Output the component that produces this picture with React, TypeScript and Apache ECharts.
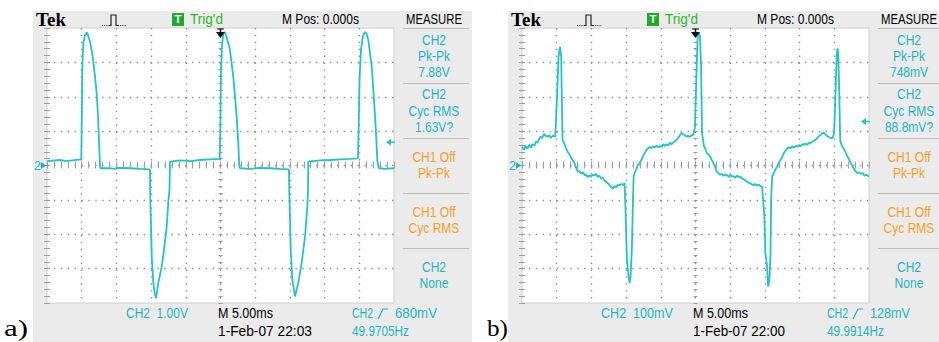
import React, { useEffect, useRef } from 'react';
import * as echarts from 'echarts';

// ---------- DATA ----------
// time in ms (5 ms/div, 10 div), panel a in volts (1 V/div), panel b in mV (100 mV/div)
const timeRangeMs = [0, 50];
const timePerDiv = 5;
const voltRangeA = [-4, 4];
const voltPerDivA = 1;
const voltRangeB = [-400, 400];
const voltPerDivB = 100;
const trigLevelA = 0.68;
const trigLevelB = 128;
const trigTimeMs = 25;

const waveA: [number, number][] = [
  [0, 0.13], [1.87, 0.16], [2.74, 0.13], [3.6, 0.15], [4.94, 0.18],
  [4.99, 0.95], [5.09, 2.9], [5.23, 3.56], [5.48, 3.8], [5.72, 3.87],
  [5.81, 3.85], [6.2, 3.6], [6.59, 3.17], [6.92, 2.58], [7.16, 2.1], [7.35, 1.42], [7.49, 0.74], [7.64, -0.03], [7.71, -0.08],
  [9.0, -0.08], [9.8, -0.1], [10.23, -0.07], [11.96, -0.08], [13.4, -0.1], [14.8, -0.11],
  [14.84, -0.13], [14.88, -0.94], [15.09, -2.65], [15.32, -3.41], [15.52, -3.73], [15.71, -3.86],
  [16.04, -3.41], [16.53, -2.94], [16.86, -2.45], [17.25, -1.78], [17.48, -1.05], [17.65, -0.71], [17.72, 0.11],
  [19.16, 0.15], [20.6, 0.13], [22.05, 0.16], [23.49, 0.18], [24.88, 0.19],
  [24.97, 1.0], [25.07, 2.78], [25.22, 3.5], [25.4, 3.83], [25.58, 3.88],
  [25.79, 3.8], [26.08, 3.59], [26.37, 3.36], [26.84, 2.58], [27.33, 1.42], [27.56, 0.65], [27.71, -0.03], [27.81, -0.08],
  [29.25, -0.1], [30.69, -0.07], [32.13, -0.08], [33.57, -0.1], [34.8, -0.11],
  [34.87, -0.13], [34.91, -0.76], [35.12, -2.45], [35.35, -3.33], [35.73, -3.81],
  [36.21, -3.41], [36.7, -2.83], [37.18, -2.07], [37.51, -1.19], [37.61, -0.71], [37.65, 0.11],
  [39.34, 0.15], [40.78, 0.16], [42.22, 0.18], [43.66, 0.19], [44.81, 0.21],
  [44.9, 1.03], [45.03, 2.49], [45.24, 3.36], [45.53, 3.77], [45.82, 3.89],
  [46.04, 3.83], [46.3, 3.65], [46.79, 2.88], [47.12, 1.91], [47.41, 0.95], [47.59, 0.16], [47.74, -0.03], [47.84, -0.08],
  [48.7, -0.1], [50, -0.08],
];

const waveB: [number, number][] = [
  [0.0, 55], [0.3, 45], [0.5, 58], [0.77, 48], [1.0, 60], [1.3, 52], [1.5, 62], [1.8, 58], [2.0, 70], [2.22, 66], [2.5, 78], [2.71, 84], [2.9, 80], [3.19, 92], [3.4, 86], [3.67, 84], [3.9, 88], [4.15, 80], [4.4, 86], [4.78, 84],
  [4.88, 123], [5.12, 239], [5.27, 317], [5.46, 346], [5.65, 317], [5.7, 239], [5.84, 74], [6.09, 65], [6.3, 52], [6.57, 40], [6.8, 34], [7.05, 24], [7.3, 16], [7.54, 7], [7.8, -6], [8.02, -18], [8.25, -16], [8.5, -24], [8.8, -20], [9.0, -28], [9.23, -27], [9.5, -34], [9.75, -28], [9.95, -33], [10.2, -26], [10.45, -30], [10.68, -24], [10.9, -33], [11.16, -30], [11.4, -38], [11.64, -36], [11.9, -44], [12.13, -47], [12.4, -52], [12.61, -57], [12.85, -62], [13.09, -67], [13.3, -60], [13.57, -63], [13.8, -56], [14.05, -58], [14.3, -54], [14.55, -57], [14.78, -51],
  [14.93, -139], [15.12, -274], [15.36, -323], [15.51, -342], [15.65, -323], [15.84, -236], [15.99, -100], [16.09, -32], [16.23, -22], [16.45, -12], [16.71, 2], [16.95, 8], [17.2, 16], [17.45, 28], [17.68, 36], [17.9, 44], [18.16, 50], [18.4, 54], [18.65, 50], [18.88, 56], [19.1, 52], [19.4, 58], [19.6, 53], [19.86, 57], [20.1, 54], [20.35, 62], [20.6, 57], [20.82, 62], [21.05, 58], [21.3, 66], [21.55, 62], [21.78, 67], [22.0, 70], [22.25, 74], [22.51, 80], [22.75, 88], [23.0, 95], [23.25, 90], [23.48, 88], [23.7, 84], [23.95, 86], [24.2, 83], [24.45, 88], [24.69, 89],
  [24.93, 113], [25.17, 288], [25.31, 375], [25.51, 385], [25.65, 375], [25.8, 288], [25.94, 94], [26.23, 55], [26.45, 48], [26.62, 36], [26.85, 32], [27.1, 26], [27.35, 16], [27.58, 7], [27.85, -6], [28.07, -18], [28.3, -22], [28.55, -27], [28.8, -24], [29.05, -30], [29.3, -26], [29.52, -28], [29.8, -33], [30.05, -27], [30.25, -32], [30.48, -31], [30.75, -35], [31.0, -29], [31.2, -34], [31.45, -32], [31.7, -38], [31.95, -40], [32.17, -43], [32.4, -47], [32.65, -50], [32.9, -52], [33.15, -55], [33.38, -57], [33.6, -54], [33.85, -58], [34.1, -55], [34.35, -60], [34.59, -61],
  [34.74, -100], [34.93, -149], [35.07, -255], [35.32, -294], [35.46, -352], [35.65, -333], [35.8, -265], [35.9, -100], [36.04, -32], [36.28, -22], [36.5, -12], [36.77, -3], [37.0, 8], [37.25, 16], [37.5, 26], [37.73, 36], [38.0, 44], [38.22, 50], [38.45, 53], [38.7, 50], [38.94, 56], [39.2, 52], [39.45, 57], [39.67, 55], [39.9, 60], [40.15, 56], [40.4, 62], [40.63, 60], [40.85, 64], [41.1, 60], [41.35, 67], [41.59, 65], [41.85, 70], [42.1, 72], [42.35, 76], [42.56, 80], [42.8, 86], [43.04, 89], [43.28, 94], [43.52, 95], [43.75, 90], [44.01, 85], [44.25, 82], [44.5, 80], [44.73, 79],
  [44.97, 94], [45.22, 239], [45.36, 326], [45.46, 341], [45.56, 326], [45.7, 229], [45.85, 74], [46.0, 62], [46.19, 55], [46.45, 46], [46.67, 36], [46.9, 26], [47.16, 16], [47.4, 6], [47.64, -3], [47.9, -12], [48.12, -18], [48.35, -22], [48.6, -20], [48.84, -24], [49.1, -22], [49.35, -30], [49.6, -27], [50.0, -32],
];

// measurement panel labels
const measureA: string[][] = [['CH2', 'Pk-Pk', '7.88V'], ['CH2', 'Cyc RMS', '1.63V?'], ['CH1 Off', 'Pk-Pk'], ['CH1 Off', 'Cyc RMS'], ['CH2', 'None']];
const measureB: string[][] = [['CH2', 'Pk-Pk', '748mV'], ['CH2', 'Cyc RMS', '88.8mV?'], ['CH1 Off', 'Pk-Pk'], ['CH1 Off', 'Cyc RMS'], ['CH2', 'None']];
const measureIsCh1 = [false, false, true, true, false];
const scaleLabelA = 'CH2  1.00V';
const scaleLabelB = 'CH2  100mV';
const trigLabelA = '680mV';
const trigLabelB = '128mV';
const freqA = '49.9705Hz';
const freqB = '49.9914Hz';
const dateA = '1-Feb-07 22:03';
const dateB = '1-Feb-07 22:00';

// ---------- STYLE ----------
const SANS = '"Liberation Sans", Arial, sans-serif';
const SERIF = '"Liberation Serif", "Times New Roman", serif';
const CYAN_LINE = '#22c4c6';
const CYAN_TEXT = '#1cb6c0';
const ORANGE = '#f4a11e';
const GREEN = '#2db52d';
const BG = '#ebebeb';
const TICK = '#9c9c9c';

let measureCtx: CanvasRenderingContext2D | null = null;
function measure(text: string, font: string): number {
  if (!measureCtx) measureCtx = document.createElement('canvas').getContext('2d');
  if (!measureCtx) return text.length * 7;
  measureCtx.font = font;
  return measureCtx.measureText(text).width;
}

type TOpts = { w?: number; align?: string; color?: string; size?: number; bold?: boolean; family?: string };
function txt(text: string, x: number, y: number, o: TOpts = {}) {
  const size = o.size ?? 14;
  const family = o.family ?? SANS;
  const weight = o.bold ? 'bold' : 'normal';
  const natural = measure(text, `${weight} ${size}px ${family}`);
  const sx = o.w ? o.w / natural : 0.86;
  const align = o.align ?? 'left';
  return {
    type: 'text',
    x, y, scaleX: sx, scaleY: 1, z: 20, silent: true,
    style: {
      text, x: 0, y: 0, fill: o.color ?? '#000',
      fontSize: size, fontFamily: family, fontWeight: weight,
      textAlign: align, align, textVerticalAlign: 'middle', verticalAlign: 'middle',
    },
  };
}

const GRID_TOP = 28;
const GRID_H = 275;
const GRID_W = 347;

function buildPanel(dx: number, gi: number, yr: number[], yStep: number, wave: [number, number][], m: string[][],
  scaleLabel: string, scaleW: number, trigLabel: string, freq: string, date: string, trigLevel: number, isA: boolean) {
  const left = 47 + dx;
  const right = left + GRID_W;
  const yOf = (v: number) => GRID_TOP + (yr[1] - v) / (yr[1] - yr[0]) * GRID_H;
  const xOf = (t: number) => left + (t - timeRangeMs[0]) / (timeRangeMs[1] - timeRangeMs[0]) * GRID_W;

  const grid = { left, top: GRID_TOP, width: GRID_W, height: GRID_H, show: true, backgroundColor: '#ffffff', borderColor: '#d0d0d0', borderWidth: 1 };

  const tickStyle = { color: TICK, width: 1 };
  const hidden = { axisLabel: { show: false }, axisLine: { show: false }, splitLine: { show: false }, axisTick: { show: false }, minorTick: { show: false }, z: 3 };
  const tickAx = (len: number) => ({
    axisTick: { show: true, inside: true, length: len, lineStyle: tickStyle },
    minorTick: { show: true, splitNumber: 5, length: len, lineStyle: tickStyle },
  });
  const xb = { type: 'value', gridIndex: gi, min: timeRangeMs[0], max: timeRangeMs[1], interval: timePerDiv, ...hidden };
  const yb = { type: 'value', gridIndex: gi, min: yr[0], max: yr[1], interval: yStep, ...hidden };
  const dots = { show: true, showMinLine: false, showMaxLine: false, lineStyle: { color: '#8c8c8c', width: 1.4, type: [1.4, 5.5] } };
  const xAxes = [
    { ...xb, splitLine: dots },
    { ...xb, position: 'top', ...tickAx(3) },
    { ...xb, position: 'bottom', ...tickAx(3) },
    { ...xb, position: 'bottom', offset: -(GRID_H / 2) + 2, ...tickAx(4) },
  ];
  const yAxes = [
    { ...yb, splitLine: dots },
    { ...yb, position: 'left', ...tickAx(3) },
    { ...yb, position: 'right', ...tickAx(3) },
    { ...yb, position: 'left', offset: -(GRID_W / 2) + 2, ...tickAx(4) },
  ];

  const series = {
    type: 'line', xAxisIndex: gi * 4, yAxisIndex: gi * 4, data: wave, showSymbol: false, symbol: 'none',
    lineStyle: { color: CYAN_LINE, width: 1.8 }, silent: true, z: 5,
  };

  const g: any[] = [];
  // panel background
  g.push({ type: 'rect', shape: { x: 33 + dx, y: 11, width: isA ? 439 : 431, height: 331 }, style: { fill: BG }, z: -10, silent: true });
  // header
  g.push(txt('Tek', 36 + dx, 20, { w: 30, size: 18, bold: true, family: SERIF }));
  // acquisition icon
  g.push({ type: 'line', shape: { x1: 102 + dx, y1: 25.5, x2: 109 + dx, y2: 25.5 }, style: { stroke: '#222', lineWidth: 1, lineDash: [1, 1.2] }, z: 20, silent: true });
  g.push({ type: 'polyline', shape: { points: [[109 + dx, 25.5], [111 + dx, 25.5], [111 + dx, 15], [116 + dx, 15], [116 + dx, 25.5], [118 + dx, 25.5]] }, style: { stroke: '#222', lineWidth: 1.2, fill: 'none' }, z: 20, silent: true });
  g.push({ type: 'line', shape: { x1: 118 + dx, y1: 25.5, x2: 127 + dx, y2: 25.5 }, style: { stroke: '#222', lineWidth: 1, lineDash: [1, 1.2] }, z: 20, silent: true });
  // trigger status
  g.push({ type: 'rect', shape: { x: 172 + dx, y: 13, width: 12, height: 13 }, style: { fill: '#1faa2a' }, z: 20, silent: true });
  g.push(txt('T', 178 + dx, 19.5, { align: 'center', color: '#fff', size: 11, bold: true, w: 7 }));
  g.push(txt("Trig'd", 190 + dx, 19, { w: 33, color: GREEN }));
  g.push(txt('M Pos: 0.000s', 282 + dx, 19, { w: 77 }));
  g.push(txt('MEASURE', 406 + dx, 19, { w: 56 }));
  // measure panel separators
  const sepY = [28, 83, 138, 193, 248];
  sepY.forEach((y) => {
    g.push({ type: 'line', shape: { x1: 403 + dx, y1: y + 0.5, x2: (isA ? 469 : 464) + dx, y2: y + 0.5 }, style: { stroke: '#bdbdbd', lineWidth: 1 }, z: 20, silent: true });
  });
  const mcx = 434 + dx;
  const rowY3 = [[40, 56.5, 72], [94.5, 111, 127]];
  m.forEach((rows, i) => {
    const color = measureIsCh1[i] ? ORANGE : CYAN_TEXT;
    const ys = i < 2 ? rowY3[i] : i === 2 ? [157, 173] : i === 3 ? [212, 228.5] : [267, 283.5];
    rows.forEach((s, j) => g.push(txt(s, mcx, ys[j], { align: 'center', color })));
  });
  // markers: ground "2" marker at 0 level
  const y0 = yOf(0);
  g.push(txt('2', 34 + dx, y0, { color: CYAN_TEXT, size: 13, w: 7 }));
  g.push({ type: 'polygon', shape: { points: [[41 + dx, y0 - 3.5], [46 + dx, y0], [41 + dx, y0 + 3.5]] }, style: { fill: CYAN_TEXT }, z: 20, silent: true });
  // trigger level arrow
  const yt = yOf(trigLevel);
  g.push({ type: 'polygon', shape: { points: [[right - 8, yt], [right - 3, yt - 3.5], [right - 3, yt + 3.5]] }, style: { fill: CYAN_LINE }, z: 20, silent: true });
  g.push({ type: 'line', shape: { x1: right - 4, y1: yt, x2: right + 1, y2: yt }, style: { stroke: CYAN_LINE, lineWidth: 1.5 }, z: 20, silent: true });
  // trigger time arrow
  const xt = xOf(trigTimeMs);
  g.push({ type: 'line', shape: { x1: xt, y1: 29, x2: xt, y2: 34 }, style: { stroke: '#111', lineWidth: 1.5 }, z: 20, silent: true });
  g.push({ type: 'polygon', shape: { points: [[xt - 4.5, 32], [xt + 4.5, 32], [xt, 38]] }, style: { fill: '#111' }, z: 20, silent: true });
  g.push({ type: 'line', shape: { x1: xt - 3.5, y1: 29, x2: xt + 3.5, y2: 29 }, style: { stroke: '#111', lineWidth: 1 }, z: 20, silent: true });
  // bottom status lines
  g.push(txt(scaleLabel, 126 + dx, 313, { w: scaleW, color: CYAN_TEXT }));
  g.push(txt('M 5.00ms', 218 + dx, 313, { w: 55 }));
  g.push(txt(date, 218 + dx, 331, { w: isA ? 94 : 92 }));
  g.push(txt('CH2', 352 + dx, 313, { w: 21, color: CYAN_TEXT }));
  g.push({ type: 'polyline', shape: { points: [[378 + dx, 319], [383 + dx, 309], [388 + dx, 309]] }, style: { stroke: CYAN_TEXT, lineWidth: 1.2, fill: 'none' }, z: 20, silent: true });
  g.push(txt(trigLabel, 395 + dx, 313, { w: isA ? 42 : 40, color: CYAN_TEXT }));
  g.push(txt(freq, 352 + dx, 331, { w: 57, color: CYAN_TEXT }));
  // panel letter
  g.push(txt(isA ? 'a)' : 'b)', (isA ? 4 : 487), 328, { w: isA ? 24 : 21, size: 23, family: SERIF }));

  return { grid, xAxes, yAxes, series, g };
}

export default function App() {
  const ref = useRef<HTMLDivElement>(null);
  useEffect(() => {
    if (!ref.current) return;
    const chart = echarts.init(ref.current, undefined, { renderer: 'svg' });
    const pa = buildPanel(0, 0, voltRangeA, voltPerDivA, waveA, measureA, scaleLabelA, 62, trigLabelA, freqA, dateA, trigLevelA, true);
    const pb = buildPanel(475, 1, voltRangeB, voltPerDivB, waveB, measureB, scaleLabelB, 72, trigLabelB, freqB, dateB, trigLevelB, false);
    chart.setOption({
      animation: false,
      backgroundColor: '#ffffff',
      grid: [pa.grid, pb.grid],
      xAxis: [...pa.xAxes, ...pb.xAxes],
      yAxis: [...pa.yAxes, ...pb.yAxes],
      series: [pa.series, pb.series],
      graphic: { elements: [...pa.g, ...pb.g] },
    });
    return () => chart.dispose();
  }, []);
  return (
    <div style={{ position: 'absolute', left: 0, top: 0, width: 939, height: 342, background: '#fff' }}>
      <div ref={ref} style={{ width: 939, height: 342 }} />
    </div>
  );
}
